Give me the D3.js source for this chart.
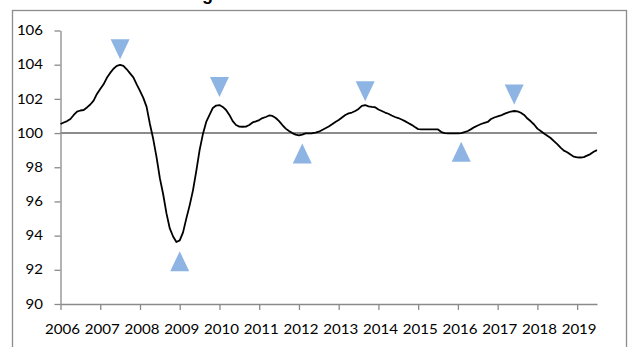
<!DOCTYPE html>
<html lang="en">
<head>
  <meta charset="UTF-8">
  <title>Leading indicator</title>
  <script src="https://d3js.org/d3.v7.min.js"></script>
  <style>
    body {
      margin: 0;
      padding: 0;
      background: #fff;
    }
    svg {
      display: block;
    }
  </style>
</head>
<body>
  <div id="chart"></div>

  <script>
    // monthly index, Jan 2006 .. Jul 2019
    const yearLabels = ["2006", "2007", "2008", "2009", "2010", "2011", "2012",
                        "2013", "2014", "2015", "2016", "2017", "2018", "2019"];
    const yTicks = [90, 92, 94, 96, 98, 100, 102, 104, 106];
    const baseline = 100;

    const values = [
      100.53, 100.62, 100.70, 100.82, 101.06, 101.26, 101.32, 101.35, 101.50, 101.67, 101.90, 102.29,
      102.58, 102.85, 103.23, 103.52, 103.76, 103.93, 103.99, 103.93, 103.73, 103.49, 103.26, 102.85,
      102.47, 102.06, 101.53, 100.53, 99.65, 98.59, 97.36, 96.42, 95.30, 94.42, 93.95, 93.63,
      93.72, 94.19, 95.01, 95.77, 96.65, 97.77, 99.00, 99.94, 100.65, 101.06, 101.47, 101.61,
      101.64, 101.53, 101.35, 101.06, 100.70, 100.47, 100.38, 100.37, 100.38, 100.47, 100.62, 100.68,
      100.76, 100.88, 100.94, 101.03, 101.00, 100.88, 100.70, 100.47, 100.26, 100.12, 100.00, 99.91,
      99.86, 99.91, 99.98, 99.98, 99.99, 100.03, 100.08, 100.18, 100.28, 100.38, 100.51, 100.65,
      100.76, 100.91, 101.06, 101.15, 101.20, 101.29, 101.41, 101.59, 101.64, 101.56, 101.53, 101.51,
      101.38, 101.29, 101.20, 101.13, 101.03, 100.94, 100.88, 100.79, 100.70, 100.59, 100.48, 100.35,
      100.23, 100.22, 100.22, 100.22, 100.22, 100.22, 100.21, 100.06, 100.00, 99.98, 99.98, 99.98,
      99.98, 100.00, 100.06, 100.12, 100.23, 100.35, 100.44, 100.53, 100.59, 100.65, 100.82, 100.91,
      100.97, 101.03, 101.12, 101.19, 101.26, 101.29, 101.27, 101.19, 101.06, 100.85, 100.69, 100.50,
      100.26, 100.12, 99.97, 99.84, 99.71, 99.53, 99.35, 99.15, 98.97, 98.88, 98.74, 98.62,
      98.58, 98.57, 98.59, 98.68, 98.77, 98.91, 99.00
    ];

    // turning point markers (month index, value)
    const peakMonths = [18, 48, 92, 137];
    const peakValues = [104.9, 102.7, 102.45, 102.25];
    const troughMonths = [36, 73, 121];
    const troughValues = [92.5, 98.8, 98.9];

    const width = 630, height = 347;
    const font = "Lato, 'Open Sans', sans-serif";
    const axisColor = "#8a8a8a";
    const markerColor = "#8db4e2";

    const svg = d3.select("#chart").append("svg")
      .attr("width", width)
      .attr("height", height);

    // chart frame
    svg.append("rect")
      .attr("x", 12.5).attr("y", 10.5)
      .attr("width", 614).attr("height", 400)
      .attr("fill", "none")
      .attr("stroke", "#8c8c8c")
      .attr("stroke-width", 1.3);

    // title, mostly cut off above the page (as in the source image)
    const title = svg.append("text")
      .attr("y", 0)
      .attr("font-family", "'Liberation Sans', Arial, sans-serif")
      .attr("font-weight", "bold")
      .attr("font-size", 18)
      .attr("fill", "#000")
      .text("Leading indicator");
    const gOffset = title.node().getSubStringLength(0, 6);
    title.attr("x", 202 - gOffset);

    const x = d3.scaleLinear().domain([0, values.length - 1]).range([60.5, 597]);
    const y = d3.scaleLinear().domain([90, 106]).range([304, 30.5]);

    // y axis
    const gy = svg.append("g")
      .attr("transform", `translate(${x(0)},0)`)
      .call(d3.axisLeft(y).tickValues(yTicks).tickSize(6).tickPadding(11.5).tickSizeOuter(0));
    gy.select(".domain").attr("stroke", axisColor).attr("stroke-width", 1.3);
    gy.selectAll(".tick line").attr("stroke", axisColor).attr("stroke-width", 1.3);
    gy.selectAll(".tick text")
      .attr("font-family", font)
      .attr("font-size", 13)
      .attr("fill", "#000")
      .attr("textLength", d => String(d).length * 8.7)
      .attr("lengthAdjust", "spacingAndGlyphs");

    // x axis, one tick per January
    const yearTicks = yearLabels.map((d, i) => i * 12);
    const gx = svg.append("g")
      .attr("transform", `translate(0,${y(90)})`)
      .call(d3.axisBottom(x).tickValues(yearTicks).tickSize(6).tickPadding(15)
        .tickSizeOuter(0).tickFormat(d => yearLabels[d / 12]));
    gx.select(".domain").attr("stroke", axisColor).attr("stroke-width", 1.3);
    gx.selectAll(".tick line").attr("stroke", axisColor).attr("stroke-width", 1.3);
    gx.selectAll(".tick text")
      .attr("x", 1.5)
      .attr("font-family", font)
      .attr("font-size", 13)
      .attr("fill", "#000")
      .attr("textLength", 35)
      .attr("lengthAdjust", "spacingAndGlyphs");

    // 100 reference line
    svg.append("line")
      .attr("x1", x(0)).attr("x2", x(values.length - 1))
      .attr("y1", y(baseline)).attr("y2", y(baseline))
      .attr("stroke", "#8c8c8c")
      .attr("stroke-width", 2);

    // indicator line
    const line = d3.line()
      .x((d, i) => x(i))
      .y(d => y(d));

    svg.append("path")
      .datum(values)
      .attr("d", line)
      .attr("fill", "none")
      .attr("stroke", "#000")
      .attr("stroke-width", 1.8)
      .attr("stroke-linejoin", "round");

    // markers
    const downTri = "M-9.5,-10L9.5,-10L0,10Z";
    const upTri = "M-9.5,10L9.5,10L0,-10Z";

    svg.append("g").selectAll("path")
      .data(peakMonths.map((m, i) => [m, peakValues[i]]))
      .join("path")
      .attr("transform", d => `translate(${x(d[0])},${y(d[1])})`)
      .attr("d", downTri)
      .attr("fill", markerColor);

    svg.append("g").selectAll("path")
      .data(troughMonths.map((m, i) => [m, troughValues[i]]))
      .join("path")
      .attr("transform", d => `translate(${x(d[0])},${y(d[1])})`)
      .attr("d", upTri)
      .attr("fill", markerColor);
  </script>
</body>
</html>
